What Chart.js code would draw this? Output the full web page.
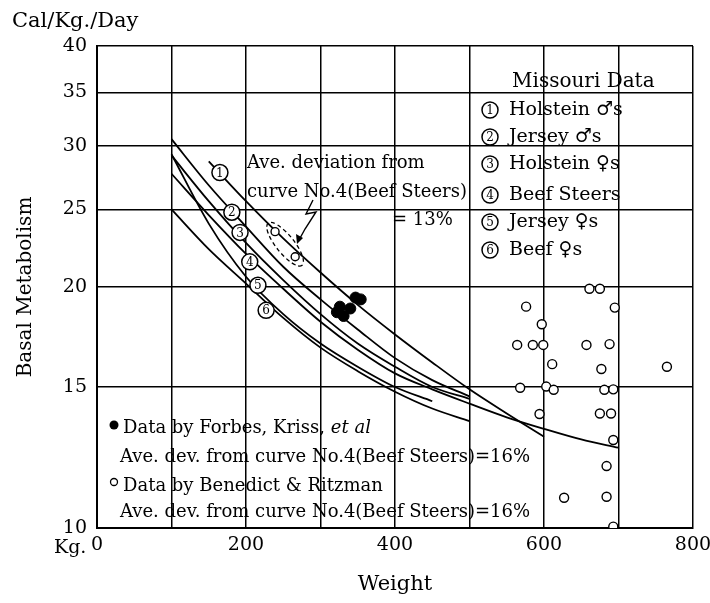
<!DOCTYPE html>
<html>
<head>
<meta charset="utf-8">
<style>
  html, body { margin: 0; background: #fff; }
  #wrap { width: 710px; height: 603px; }
</style>
<script src="https://cdn.jsdelivr.net/npm/chart.js"></script>
</head>
<body>
<div id="wrap"><canvas id="bmr"></canvas></div>
<script>
// ---- axes ----
const yTicks = [10, 15, 20, 25, 30, 35, 40];
const xTicks = [0, 100, 200, 300, 400, 500, 600, 700, 800];
const xLabelled = [0, 200, 400, 600, 800];

// ---- Missouri curves (weight kg / Cal per kg per day) ----
const holsteinMaleW   = [150, 200, 250, 300, 350, 400, 450, 500, 550, 600];
const holsteinMaleCal = [28.7, 25.6, 23.0, 20.85, 19.0, 17.45, 16.1, 14.9, 13.9, 13.0];

const jerseyMaleW   = [100, 150, 200, 250, 300, 350, 400, 450, 500];
const jerseyMaleCal = [30.6, 26.8, 23.8, 21.2, 19.3, 17.7, 16.3, 15.3, 14.6];

const holsteinFemW   = [100, 150, 200, 250, 300, 350, 400, 450, 500];
const holsteinFemCal = [29.2, 25.6, 22.7, 20.4, 18.5, 17.0, 15.9, 15.0, 14.5];

const beefSteerW   = [100, 150, 200, 250, 300, 350, 400, 450, 500, 550, 600, 650, 700];
const beefSteerCal = [27.7, 24.6, 22.0, 19.9, 18.1, 16.7, 15.6, 14.9, 14.3, 13.75, 13.3, 12.9, 12.6];

const jerseyFemW   = [100, 150, 200, 250, 300, 350, 400, 450];
const jerseyFemCal = [29.3, 24.0, 20.6, 18.5, 17.0, 15.9, 15.0, 14.4];

const beefFemW   = [100, 150, 200, 250, 300, 350, 400, 450, 500];
const beefFemCal = [25.0, 22.3, 20.2, 18.3, 16.8, 15.7, 14.8, 14.1, 13.6];

// ---- Forbes, Kriss et al (filled) ----
const forbesW   = [322, 326, 331, 340, 347, 354];
const forbesCal = [18.6, 18.9, 18.4, 18.8, 19.4, 19.3];

// ---- Benedict & Ritzman (open) ----
const benedictW   = [661, 675, 576, 695, 597, 564, 585, 599, 657, 688, 611, 677, 765, 568, 603, 613, 681, 693, 594, 675, 690, 693, 684, 627, 684, 693];
const benedictCal = [19.9, 19.9, 18.9, 18.85, 17.97, 16.93, 16.93, 16.93, 16.93, 16.97, 16.02, 15.8, 15.9, 14.97, 15.02, 14.88, 14.88, 14.9, 13.88, 13.9, 13.9, 12.88, 11.95, 10.91, 10.94, 10.04];

// ---- the two points ringed for the 13% note ----
const ringW   = [239, 266];
const ringCal = [23.45, 21.82];

// curve number tags (weight, Cal) in order 1..6
const tagW   = [165, 181, 192, 205, 216, 227];
const tagCal = [27.8, 24.8, 23.4, 21.5, 20.1, 18.7];

const legendItems = ['Holstein \u2642s', 'Jersey \u2642s', 'Holstein \u2640s', 'Beef Steers', 'Jersey \u2640s', 'Beef \u2640s'];

const FONT = '"DejaVu Serif", serif';
const pts = (xs, ys) => xs.map((v, i) => ({ x: v, y: ys[i] }));

const curve = (xs, ys) => ({
  type: 'line',
  data: pts(xs, ys),
  borderColor: '#000',
  borderWidth: 1.8,
  pointRadius: 0,
  cubicInterpolationMode: 'monotone',
  fill: false
});

function circled(ctx, cx, cy, n, r) {
  ctx.beginPath();
  ctx.arc(cx, cy, r, 0, Math.PI * 2);
  ctx.fillStyle = '#fff';
  ctx.fill();
  ctx.lineWidth = 1.5;
  ctx.strokeStyle = '#000';
  ctx.stroke();
  ctx.fillStyle = '#000';
  ctx.font = `${Math.round(r * 1.45)}px ${FONT}`;
  ctx.textAlign = 'center';
  ctx.textBaseline = 'middle';
  ctx.fillText(String(n), cx, cy + 1);
}

function text(ctx, s, x, y, size, opts = {}) {
  ctx.font = `${opts.italic ? 'italic ' : ''}${size}px ${FONT}`;
  ctx.fillStyle = '#000';
  ctx.textAlign = opts.align || 'left';
  ctx.textBaseline = 'middle';
  ctx.fillText(s, x, y);
}

const notes = {
  id: 'notes',
  afterDatasetsDraw(chart) {
    const { ctx, scales: { x, y } } = chart;
    ctx.save();

    // tags on the curves
    tagW.forEach((w, i) => circled(ctx, x.getPixelForValue(w), y.getPixelForValue(tagCal[i]), i + 1, 8));

    // dashed ring round the two points
    const ax = x.getPixelForValue(ringW[0]), ay = y.getPixelForValue(ringCal[0]);
    const bx = x.getPixelForValue(ringW[1]), by = y.getPixelForValue(ringCal[1]);
    const ang = Math.atan2(by - ay, bx - ax);
    const half = Math.hypot(bx - ax, by - ay) / 2;
    ctx.beginPath();
    ctx.setLineDash([4, 3]);
    ctx.lineWidth = 1.3;
    ctx.ellipse((ax + bx) / 2, (ay + by) / 2, half + 11, 9, ang, 0, Math.PI * 2);
    ctx.stroke();
    ctx.setLineDash([]);

    // squiggle arrow
    ctx.beginPath();
    ctx.lineWidth = 1.4;
    ctx.moveTo(313, 200);
    ctx.lineTo(306, 214);
    ctx.lineTo(316, 212);
    ctx.lineTo(305, 229);
    ctx.lineTo(299, 240);
    ctx.stroke();
    ctx.beginPath();
    ctx.moveTo(297, 244);
    ctx.lineTo(296, 234);
    ctx.lineTo(303, 238);
    ctx.closePath();
    ctx.fillStyle = '#000';
    ctx.fill();

    // deviation note
    text(ctx, 'Ave. deviation from', 247, 163, 18);
    text(ctx, 'curve No.4(Beef Steers)', 247, 192, 18);
    text(ctx, '= 13%', 392, 220, 18);

    // Missouri key
    text(ctx, 'Missouri Data', 512, 82, 20);
    const keyY = [110, 137, 164, 195, 222, 250];
    legendItems.forEach((s, i) => {
      circled(ctx, 490, keyY[i], i + 1, 8);
      text(ctx, s, 509, keyY[i], 19);
    });

    // source notes
    ctx.beginPath();
    ctx.arc(114, 425, 4.5, 0, Math.PI * 2);
    ctx.fill();
    text(ctx, 'Data by Forbes, Kriss, ', 123, 428, 18);
    const w1 = ctx.measureText('Data by Forbes, Kriss, ').width;
    text(ctx, 'et al', 123 + w1, 428, 18, { italic: true });
    text(ctx, 'Ave. dev. from curve No.4(Beef Steers)=16%', 120, 457, 18);
    ctx.beginPath();
    ctx.lineWidth = 1.3;
    ctx.arc(114, 482, 3.5, 0, Math.PI * 2);
    ctx.stroke();
    text(ctx, 'Data by Benedict & Ritzman', 123, 486, 18);
    text(ctx, 'Ave. dev. from curve No.4(Beef Steers)=16%', 120, 512, 18);

    // corner labels
    text(ctx, 'Cal/Kg./Day', 12, 22, 21);
    text(ctx, 'Kg.', 54, 548, 19);

    ctx.restore();
  }
};

new Chart(document.getElementById('bmr'), {
  type: 'scatter',
  data: {
    datasets: [
      {
        data: pts(forbesW, forbesCal),
        pointRadius: 5.5,
        pointBackgroundColor: '#000',
        pointBorderColor: '#000'
      },
      {
        data: pts(benedictW, benedictCal),
        pointRadius: 4.5,
        pointBorderWidth: 1.4,
        pointBackgroundColor: '#fff',
        pointBorderColor: '#000'
      },
      {
        data: pts(ringW, ringCal),
        pointRadius: 4,
        pointBorderWidth: 1.4,
        pointBackgroundColor: '#fff',
        pointBorderColor: '#000'
      },
      curve(holsteinMaleW, holsteinMaleCal),
      curve(jerseyMaleW, jerseyMaleCal),
      curve(holsteinFemW, holsteinFemCal),
      curve(beefSteerW, beefSteerCal),
      curve(jerseyFemW, jerseyFemCal),
      curve(beefFemW, beefFemCal)
    ]
  },
  options: {
    responsive: true,
    maintainAspectRatio: false,
    animation: false,
    layout: { padding: { top: 46, right: 17, left: 0, bottom: 0 } },
    plugins: { legend: { display: false }, tooltip: { enabled: false } },
    scales: {
      x: {
        type: 'linear',
        min: 0,
        max: 800,
        afterBuildTicks: s => { s.ticks = xTicks.map(v => ({ value: v })); },
        afterFit: s => { s.height = 75; s.paddingLeft = 0; s.paddingRight = 0; },
        grid: { color: '#000', lineWidth: 1.5, drawTicks: false },
        border: { color: '#000', width: 2 },
        ticks: {
          color: '#000',
          padding: 6,
          font: { family: FONT, size: 19 },
          maxRotation: 0,
          autoSkip: false,
          callback: v => xLabelled.includes(v) ? String(v) : ''
        },
        title: {
          display: true,
          text: 'Weight',
          color: '#000',
          font: { family: FONT, size: 21 },
          padding: { top: 0, bottom: 6 }
        }
      },
      y: {
        type: 'logarithmic',
        min: 10,
        max: 40,
        afterBuildTicks: s => { s.ticks = yTicks.map(v => ({ value: v })); },
        afterFit: s => { s.width = 97; },
        grid: { color: '#000', lineWidth: 1.5, drawTicks: false },
        border: { color: '#000', width: 2 },
        ticks: {
          color: '#000',
          padding: 10,
          font: { family: FONT, size: 19 },
          callback: v => String(v)
        },
        title: {
          display: true,
          text: 'Basal Metabolism',
          color: '#000',
          font: { family: FONT, size: 20 },
          padding: { top: 14, bottom: 0 }
        }
      }
    }
  },
  plugins: [notes]
});
</script>
</body>
</html>
